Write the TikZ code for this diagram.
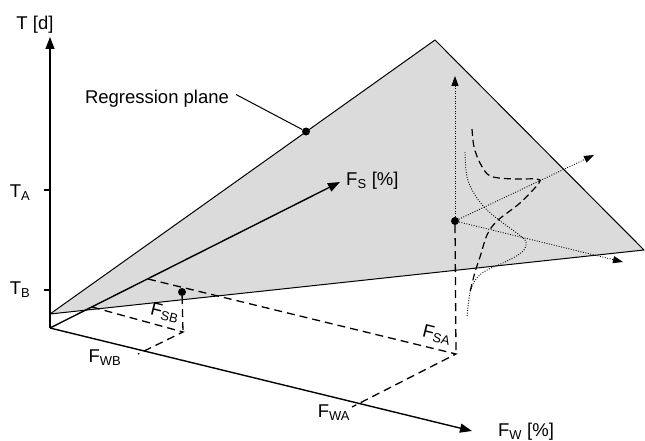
\documentclass[tikz,border=0pt]{standalone}
\usepackage{fontspec}
\setmainfont{Liberation Sans}
\usetikzlibrary{arrows.meta}
\begin{document}
\begin{tikzpicture}[x=1pt,y=-1pt,
  lbl/.style={font=\fontsize{18.5}{22}\selectfont, inner sep=0pt},
  axis/.style={line width=1.4pt, -{Triangle[length=12pt,width=9pt]}},
  edge/.style={line width=1pt},
  dsh/.style={line width=1.3pt, dash pattern=on 8pt off 5pt},
  dtline/.style={line width=0.9pt, dash pattern=on 0.9pt off 1.6pt},
  dtarrow/.style={dtline, -{Triangle[length=10pt,width=7pt]}},
  dot/.style={circle, fill=black, inner sep=0pt, minimum size=8pt}]
\useasboundingbox (0,0) rectangle (645,441);
% plane
\coordinate (P1) at (50,314);
\coordinate (P2) at (435,40);
\coordinate (P3) at (644,250);
\fill[black!14] (P1) -- (P2) -- (P3) -- cycle;
\draw[edge, line join=round] (P1) -- (P2) -- (P3) -- cycle;
% axes
\coordinate (O) at (50,328);
\coordinate (Ttip) at (50,37);
\coordinate (Stip) at (340,182);
\coordinate (Wtip) at (472,431);
\draw[axis] (O) -- (Ttip);
\draw[axis] (O) -- (Stip);
\draw[axis] (O) -- (Wtip);
% ticks
\coordinate (TA) at (50,190);
\coordinate (TB) at (50,290);
\coordinate (TAo) at (44,190);
\coordinate (TBo) at (44,290);
\draw[edge, line width=1.3pt] (TA) -- (TAo);
\draw[edge, line width=1.3pt] (TB) -- (TBo);
% labels
\node[lbl] (tlab) at (35,25) {T [d]};
\node[lbl] (talab) at (20,193) {T\textsubscript{A}};
\node[lbl] (tblab) at (20,290) {T\textsubscript{B}};
\node[lbl, anchor=west] (fslab) at (346,181) {F\textsubscript{S} [\%]};
\node[lbl] (fwlab) at (526,432) {F\textsubscript{W} [\%]};
\node[lbl] (fwalab) at (334,413) {F\textsubscript{WA}};
\node[lbl] (fwblab) at (105,358) {F\textsubscript{WB}};
\node[lbl, rotate=-14] (fsalab) at (437,335) {F\textsubscript{SA}};
\node[lbl, rotate=-14] (fsblab) at (165,313) {F\textsubscript{SB}};
\node[lbl] (rp) at (157,99) {Regression plane};
% dots
\node[dot] (rpdot) at (306,131.5) {};
\node[dot] (B) at (182,292) {};
\node[dot] (A) at (455,221) {};
\coordinate (rpstart) at (236,94.5);
\draw[edge] (rpstart) -- (rpdot);
% dashed construction lines
\coordinate (SB) at (92,307);
\coordinate (Bc) at (183,332);
\coordinate (WBend) at (138,354);
\coordinate (SA) at (148,279);
\coordinate (Ac) at (456,354);
\coordinate (WAend) at (352,407);
\draw[dsh] (SB) -- (Bc) -- (WBend);
\draw[dsh] (B) -- (Bc);
\draw[dsh] (SA) -- (Ac) -- (WAend);
\draw[dsh] (A) -- (Ac);
% dotted arrows from A
\coordinate (Aup) at (455,76);
\coordinate (Aur) at (594,155);
\coordinate (Alr) at (623,262);
\draw[dtarrow] (A) -- (Aup);
\draw[dtarrow] (A) -- (Aur);
\draw[dtarrow] (A) -- (Alr);
% distributions
\draw[dtline] plot[smooth, tension=0.6] coordinates {(465,152) (467,177) (475,195) (487,210) (503,223) (518,234) (526,242) (522,252) (505,262) (487,270) (476,279) (470,293) (467,317)};
\draw[dsh, line width=1.2pt, dash pattern=on 7pt off 4pt] plot[smooth, tension=0.5] coordinates {(472,129) (474,147) (480,163) (490,176) (513,179) (536,179) (539,183) (520,203) (497,221) (487,235) (480,257) (475,272) (470,292)};
\end{tikzpicture}
\end{document}
